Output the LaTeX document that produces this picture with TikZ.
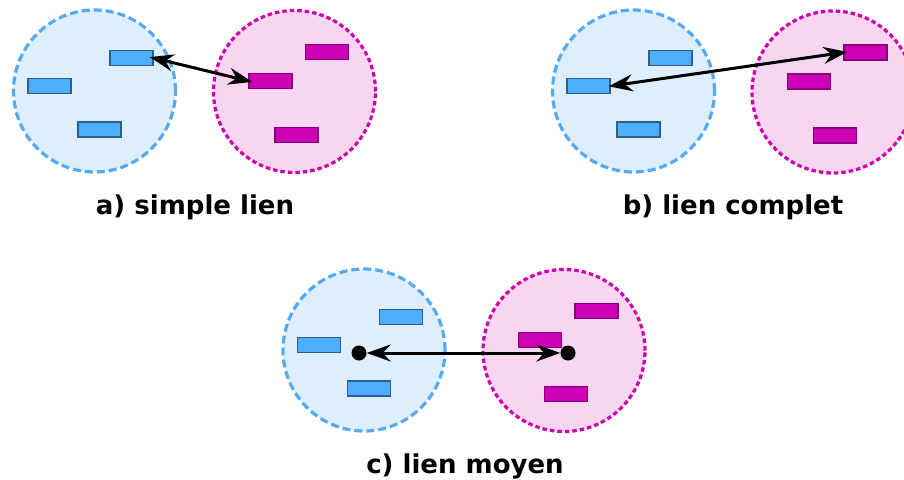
\documentclass[tikz,border=0pt]{standalone}
\usepackage{fontspec}
\setmainfont{DejaVu Sans}
\usetikzlibrary{arrows.meta}

\definecolor{bleufond}{HTML}{DDEEFC}
\definecolor{bleutrait}{HTML}{55AAF0}
\definecolor{bleubloc}{HTML}{4FADFF}
\definecolor{bleubord}{HTML}{2F5F88}
\definecolor{rosefond}{HTML}{F8D5F1}
\definecolor{rosetrait}{HTML}{CC00AA}
\definecolor{rosebloc}{HTML}{CC00B4}
\definecolor{rosebord}{HTML}{8A0078}

\tikzset{
	fleche/.tip={Stealth[length=24pt 0,width=17pt 0,inset=8pt 0]},
	groupebleu/.style={circle,minimum size=162pt,inner sep=0pt,fill=bleufond,
		draw=bleutrait,line width=3.2pt,dash pattern=on 8pt off 4pt},
	grouperose/.style={circle,minimum size=162pt,inner sep=0pt,fill=rosefond,
		draw=rosetrait,line width=3.2pt,dash pattern=on 4.5pt off 3pt},
	blocbleu/.style={rectangle,minimum width=43pt,minimum height=15pt,inner sep=0pt,
		fill=bleubloc,draw=bleubord,line width=1.3pt},
	blocrose/.style={rectangle,minimum width=43pt,minimum height=15pt,inner sep=0pt,
		fill=rosebloc,draw=rosebord,line width=1.3pt},
	moyenne/.style={circle,fill=black,minimum size=15pt,inner sep=0pt},
	lien/.style={fleche-fleche,line width=3pt},
	titre/.style={font=\fontsize{26}{30}\selectfont\bfseries}
}

\begin{document}
\begin{tikzpicture}[x=1pt,y=-1pt]
	\useasboundingbox (0,0) rectangle (904,479);
	% les trois cas
	\foreach \p/\bx/\by/\px/\py in {a/94.5/91/294.5/91.5,b/633.5/91/833/92,c/364/350/564/350.5} {
		\node[groupebleu] (\p-gb) at (\bx,\by) {};
		\node[grouperose] (\p-gr) at (\px,\py) {};
		\node[blocbleu] (\p-b1) at (\bx+37,\by-33) {};
		\node[blocbleu] (\p-b2) at (\bx-45,\by-5) {};
		\node[blocbleu] (\p-b3) at (\bx+5,\by+38.5) {};
		\node[blocrose] (\p-r1) at (\px+32.5,\py-39.5) {};
		\node[blocrose] (\p-r2) at (\px-24,\py-10.5) {};
		\node[blocrose] (\p-r3) at (\px+2,\py+43.5) {};
	}
	\node[moyenne] (c-mb) at (359,353) {};
	\node[moyenne] (c-mr) at (568,353) {};
	\draw[lien,shorten <=-4pt,shorten >=-4pt] (a-b1.east) -- (a-r2.west);
	\draw[lien,shorten <=-2pt,shorten >=-4pt] (b-b2.east) -- (b-r1.west);
	\draw[lien] (c-mb) -- (c-mr);
	% legendes
	\node[titre] (ta) at (195,207) {a) simple lien};
	\node[titre] (tb) at (733,207) {b) lien complet};
	\node[titre] (tc) at (465,466) {c) lien moyen};
\end{tikzpicture}
\end{document}
